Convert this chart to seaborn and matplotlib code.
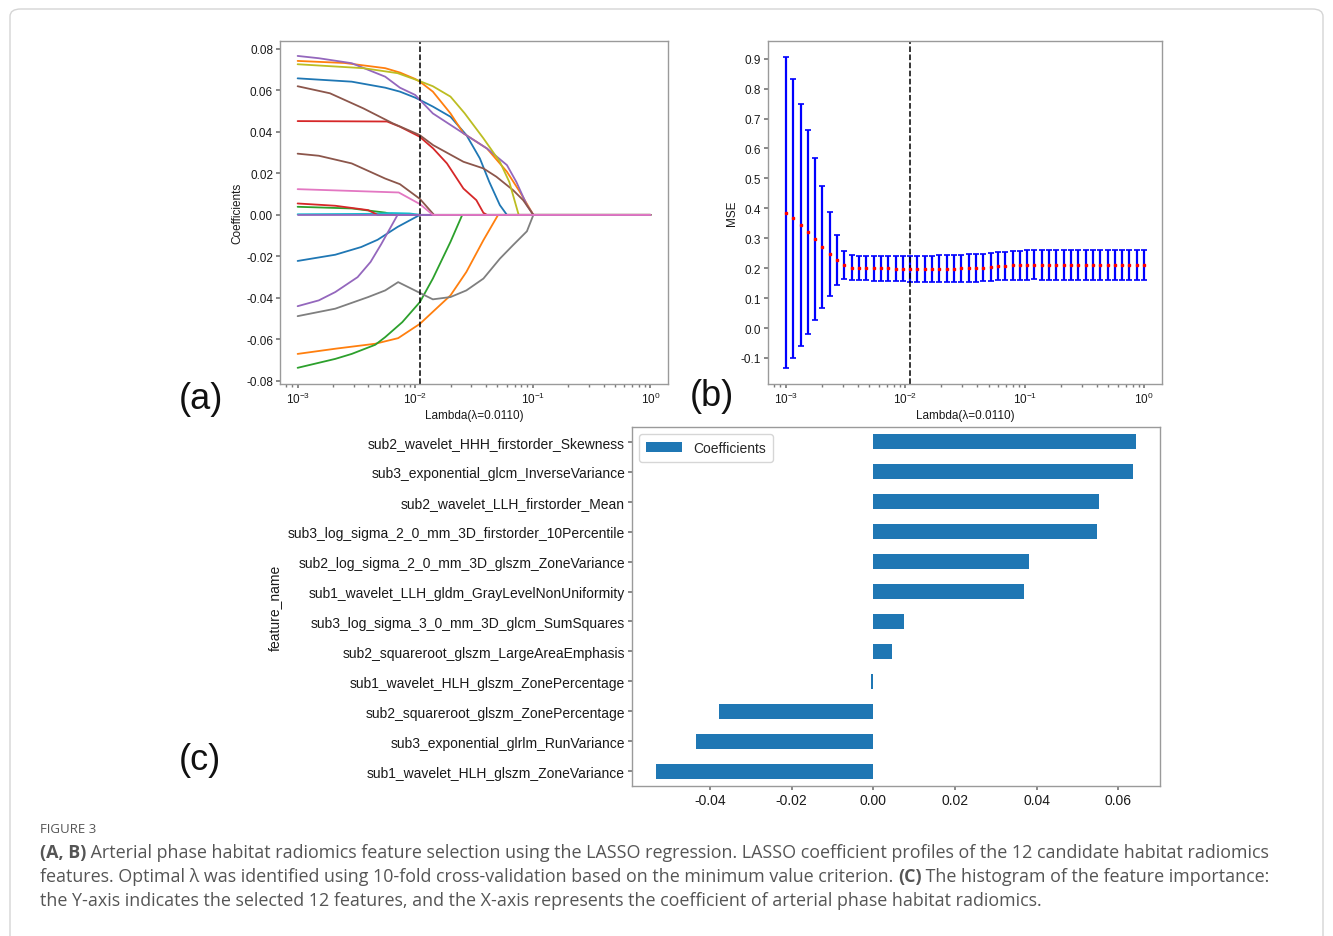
import numpy as np
import pandas as pd
import matplotlib
matplotlib.use("Agg")
import matplotlib.pyplot as plt
from matplotlib.patches import FancyBboxPatch
from matplotlib.ticker import MultipleLocator
import seaborn as sns

# ---- (a) LASSO coefficient paths: log10(lambda) points and coefficient values
path_colors = ['#1f77b4', '#ff7f0e', '#2ca02c', '#d62728', '#9467bd', '#8c564b', '#bcbd22',
               '#17becf', '#1f77b4', '#ff7f0e', '#2ca02c', '#d62728', '#9467bd', '#8c564b',
               '#7f7f7f', '#9467bd', '#e377c2']

path_loglam = [
    [-3, -2.54, -2.255, -2.13, -2.0, -1.96, -1.85, -1.70, -1.565, -1.45, -1.37, -1.28, -1.22, 0],
    [-3, -2.6, -2.255, -2.13, -2.0, -1.96, -1.85, -1.70, -1.59, -1.39, -1.22, -1.11, -0.995, 0],
    [-3, -2.54, -2.255, -2.17, 0],
    [-3, -2.24, -2.13, -1.963, -1.847, -1.73, -1.59, -1.48, -1.42, -1.39, 0],
    [-3, -2.82, -2.54, -2.255, -2.13, -2.0, -1.96, -1.85, -1.59, -1.39, -1.22, -1.14, -1.05, -0.995, 0],
    [-3, -2.725, -2.44, -2.19, -1.963, -1.847, -1.59, -1.42, -1.31, -1.167, -1.082, -0.995, 0],
    [-3, -2.44, -2.15, -1.963, -1.85, -1.70, -1.58, -1.42, -1.28, -1.20, -1.12, 0],
    [-3, -2.4, -2.2, -2.05, -1.95, 0],
    [-3, -2.68, -2.46, -2.32, -2.15, -1.96, 0],
    [-3, -2.68, -2.34, -2.145, -1.96, -1.70, -1.565, -1.42, -1.295, 0],
    [-3, -2.68, -2.54, -2.34, -2.255, -2.11, -1.96, -1.85, -1.70, -1.60, 0],
    [-3, -2.68, -2.40, -2.32, 0],
    [-3, -2.82, -2.68, -2.49, -2.38, -2.29, -2.15, 0],
    [-3, -2.82, -2.54, -2.255, -2.13, -1.96, -1.84, 0],
    [-3, -2.68, -2.40, -2.255, -2.145, -1.85, -1.70, -1.565, -1.42, -1.28, -1.17, -1.05, -0.995, 0],
    [-3, 0],
    [-3, -2.14, -1.96, -1.85, 0],
]
path_coef = [
    [0.0658, 0.0642, 0.0613, 0.0594, 0.0565, 0.0554, 0.0522, 0.0473, 0.0385, 0.0272, 0.0159, 0.0047, 0, 0],
    [0.0742, 0.0732, 0.0707, 0.0686, 0.0655, 0.0642, 0.0594, 0.0489, 0.0393, 0.0320, 0.0208, 0.0111, 0, 0],
    [0.0039, 0.0031, 0.0011, 0, 0],
    [0.0452, 0.0450, 0.0425, 0.0377, 0.0320, 0.0248, 0.0127, 0.0071, 0.0010, 0, 0],
    [0.0766, 0.0755, 0.0731, 0.0666, 0.0613, 0.0578, 0.0554, 0.0489, 0.0393, 0.0320, 0.0240, 0.0159, 0.0047, 0, 0],
    [0.0620, 0.0586, 0.0513, 0.0441, 0.0385, 0.0336, 0.0256, 0.0224, 0.0184, 0.0119, 0.0071, 0, 0],
    [0.0726, 0.0707, 0.0683, 0.0645, 0.0620, 0.0570, 0.0490, 0.0369, 0.0256, 0.0159, 0, 0],
    [0.0003, 0.0005, 0.0009, 0.0007, 0, 0],
    [-0.0222, -0.0192, -0.0155, -0.0120, -0.0058, 0, 0],
    [-0.0670, -0.0645, -0.0621, -0.0594, -0.0525, -0.0388, -0.0275, -0.0122, 0, 0],
    [-0.0737, -0.0694, -0.0670, -0.0626, -0.0589, -0.0517, -0.0420, -0.0307, -0.0130, 0, 0],
    [0.0055, 0.0044, 0.0023, 0, 0],
    [-0.0440, -0.0412, -0.0372, -0.0300, -0.0227, -0.0142, 0, 0],
    [0.0295, 0.0285, 0.0248, 0.0175, 0.0148, 0.0077, 0, 0],
    [-0.0488, -0.0452, -0.0396, -0.0364, -0.0324, -0.0407, -0.0396, -0.0364, -0.0307, -0.0211, -0.0147, -0.0079, 0, 0],
    [0, 0],
    [0.0124, 0.0108, 0.0052, 0, 0],
]
best_lambda = 0.0110

# ---- (b) cross-validated MSE over 50 lambdas (1e-3 .. 1e0)
mse_lambda = [0.001, 0.00115, 0.00133, 0.00153, 0.00176, 0.00202, 0.00233, 0.00268, 0.00309, 0.00356,
              0.00409, 0.00471, 0.00543, 0.00625, 0.0072, 0.00829, 0.00954, 0.01099, 0.01265, 0.01456,
              0.01677, 0.01931, 0.02223, 0.02559, 0.02947, 0.03393, 0.03907, 0.04498, 0.05179, 0.05964,
              0.06866, 0.07906, 0.09103, 0.10481, 0.12068, 0.13895, 0.15999, 0.18421, 0.2121, 0.24421,
              0.28118, 0.32375, 0.37276, 0.42919, 0.49417, 0.56899, 0.65513, 0.75431, 0.86851, 1.0]
mse_mean = [0.386, 0.366, 0.344, 0.321, 0.297, 0.272, 0.248, 0.227, 0.211, 0.202,
            0.201, 0.200, 0.200, 0.199, 0.199, 0.198, 0.198, 0.198, 0.198, 0.198,
            0.198, 0.198, 0.198, 0.198, 0.199, 0.200, 0.201, 0.202, 0.204, 0.206,
            0.207, 0.209, 0.210, 0.211, 0.212, 0.212, 0.211, 0.211, 0.211, 0.211,
            0.211, 0.211, 0.211, 0.211, 0.211, 0.211, 0.211, 0.211, 0.211, 0.211]
mse_err = [0.521, 0.466, 0.404, 0.340, 0.271, 0.204, 0.140, 0.084, 0.047, 0.041,
           0.041, 0.041, 0.042, 0.042, 0.042, 0.042, 0.042, 0.043, 0.043, 0.044,
           0.044, 0.045, 0.045, 0.045, 0.045, 0.046, 0.046, 0.046, 0.047, 0.047,
           0.048, 0.048, 0.049, 0.049, 0.049, 0.050, 0.050, 0.050, 0.050, 0.050,
           0.050, 0.050, 0.050, 0.050, 0.050, 0.050, 0.050, 0.050, 0.050, 0.050]

# ---- (c) selected features and their coefficients
feature_names = [
    "sub2_wavelet_HHH_firstorder_Skewness",
    "sub3_exponential_glcm_InverseVariance",
    "sub2_wavelet_LLH_firstorder_Mean",
    "sub3_log_sigma_2_0_mm_3D_firstorder_10Percentile",
    "sub2_log_sigma_2_0_mm_3D_glszm_ZoneVariance",
    "sub1_wavelet_LLH_gldm_GrayLevelNonUniformity",
    "sub3_log_sigma_3_0_mm_3D_glcm_SumSquares",
    "sub2_squareroot_glszm_LargeAreaEmphasis",
    "sub1_wavelet_HLH_glszm_ZonePercentage",
    "sub2_squareroot_glszm_ZonePercentage",
    "sub3_exponential_glrlm_RunVariance",
    "sub1_wavelet_HLH_glszm_ZoneVariance",
]
feature_coef = [0.0643, 0.0636, 0.0552, 0.0548, 0.0381, 0.0368,
                0.0074, 0.0046, -0.0006, -0.0378, -0.0433, -0.0532]

caption_title = "FIGURE 3"
caption_lines = [
    [("(A, B)", True), (" Arterial phase habitat radiomics feature selection using the LASSO regression. LASSO coefficient profiles of the 12 candidate habitat radiomics", False)],
    [("features. Optimal \u03bb was identified using 10-fold cross-validation based on the minimum value criterion. ", False), ("(C)", True), (" The histogram of the feature importance:", False)],
    [("the Y-axis indicates the selected 12 features, and the X-axis represents the coefficient of arterial phase habitat radiomics.", False)],
]

sns.set_theme(style="ticks", rc={
    "axes.edgecolor": "#9a9a9a",
    "axes.linewidth": 1.0,
    "xtick.color": "#7a7a7a",
    "ytick.color": "#7a7a7a",
    "xtick.labelcolor": "#1a1a1a",
    "ytick.labelcolor": "#1a1a1a",
    "axes.labelcolor": "#1a1a1a",
    "axes.unicode_minus": False,
    "mathtext.default": "regular",
})
plt.rcParams["font.family"] = ["Liberation Sans", "DejaVu Sans"]

W, H = 1333, 937
fig = plt.figure(figsize=(W / 100, H / 100), dpi=100)

def px_axes(x0, y0, x1, y1):
    return fig.add_axes([x0 / W, 1 - y1 / H, (x1 - x0) / W, (y1 - y0) / H])

# ---- panel (a)
ax_a = px_axes(280, 42, 668, 385)
for lx, cf, col in zip(path_loglam, path_coef, path_colors):
    sns.lineplot(x=10 ** np.array(lx, dtype=float), y=cf, color=col, linewidth=1.3, ax=ax_a)
ax_a.set_xscale("log")
ax_a.axvline(best_lambda, color="black", linestyle="--", linewidth=1.1)
ax_a.yaxis.set_major_locator(MultipleLocator(0.02))
ax_a.set_ylim(-0.0815, 0.0838)
ax_a.set_xlabel("Lambda(\u03bb=0.0110)", fontsize=8.5, labelpad=2)
ax_a.set_ylabel("Coefficients", fontsize=8.5, labelpad=2)
ax_a.tick_params(labelsize=8.5, length=3, pad=2)
ax_a.tick_params(which="minor", length=2)

# ---- panel (b)
ax_b = px_axes(768, 42, 1162, 385)
ax_b.errorbar(mse_lambda, mse_mean, yerr=mse_err, fmt="s", color="red", markersize=2,
              ecolor="blue", elinewidth=1.6, capsize=2, capthick=1.2)
ax_b.set_xscale("log")
ax_b.axvline(best_lambda, color="black", linestyle="--", linewidth=1.1)
ax_b.yaxis.set_major_locator(MultipleLocator(0.1))
ax_b.set_xlabel("Lambda(\u03bb=0.0110)", fontsize=8.5, labelpad=2)
ax_b.set_ylabel("MSE", fontsize=8.5, labelpad=2)
ax_b.tick_params(labelsize=8.5, length=3, pad=2)
ax_b.tick_params(which="minor", length=2)

# ---- panel (c)
ax_c = px_axes(632, 428, 1160, 787)
bar_df = pd.DataFrame({"feature_name": feature_names, "Coefficients": feature_coef})
sns.barplot(data=bar_df, x="Coefficients", y="feature_name", orient="h", color="#1f77b4",
            saturation=1, width=0.5, linewidth=0, label="Coefficients", ax=ax_c)
ax_c.set_xlabel("")
ax_c.set_ylabel("feature_name", fontsize=10)
ax_c.tick_params(labelsize=10, length=3, pad=2)
ax_c.legend(loc="upper left", fontsize=10, frameon=True, edgecolor="#cccccc",
            handlelength=2.6, borderpad=0.5)

# ---- panel letters
for lbl, x, y in [("(a)", 201, 400), ("(b)", 712, 396), ("(c)", 200, 761)]:
    fig.text(x / W, 1 - y / H, lbl, fontsize=26, ha="center", va="center", color="#111111")

# ---- caption
cap_font = ["Open Sans", "DejaVu Sans"]
fig.text(40 / W, 1 - 830 / H, caption_title, fontsize=9.5, color="#555555", family=cap_font, va="center")
renderer = fig.canvas.get_renderer()
for i, line in enumerate(caption_lines):
    x = 40
    y = 853 + 24 * i
    for seg, bold in line:
        t = fig.text(x / W, 1 - y / H, seg, fontsize=12.9, color="#555555", family=cap_font,
                     fontweight="bold" if bold else "normal", va="center")
        x += t.get_window_extent(renderer).width

# ---- outer rounded frame
frame = FancyBboxPatch((10 / W, -0.05), 1313 / W, (H - 10) / H + 0.05,
                       boxstyle="round,pad=0,rounding_size=0.008", transform=fig.transFigure,
                       facecolor="none", edgecolor="#d5d5d5", linewidth=1.0)
fig.patches.append(frame)

fig.savefig("out.png", dpi=100)
